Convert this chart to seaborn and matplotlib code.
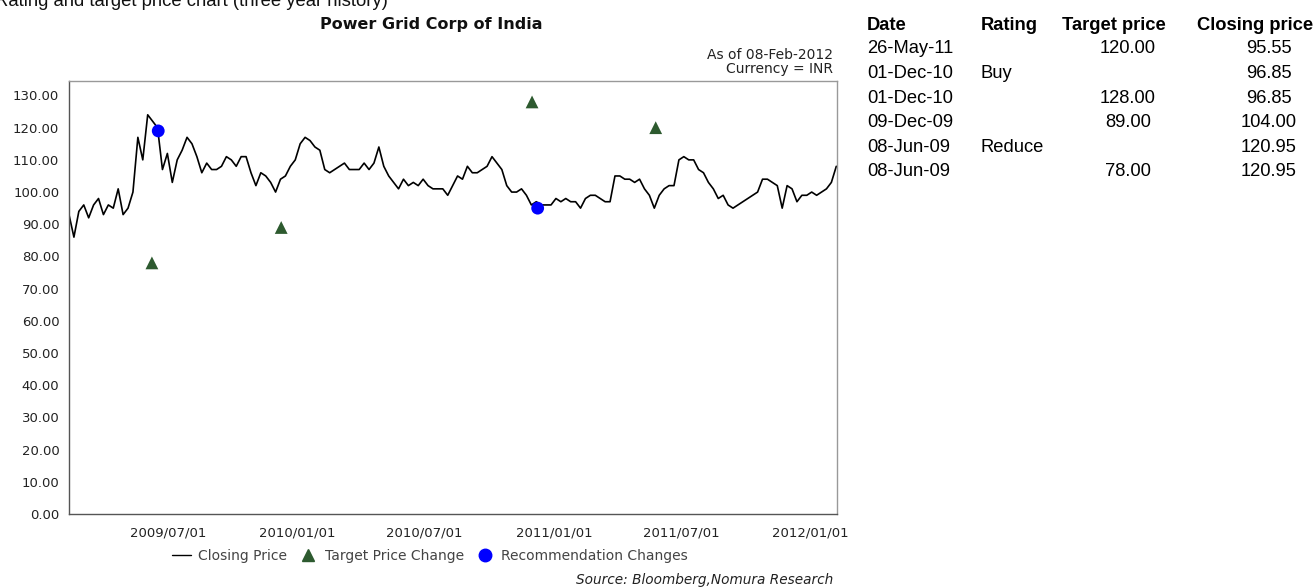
import numpy as np
import pandas as pd
import matplotlib
matplotlib.use("Agg")
import matplotlib.pyplot as plt
import matplotlib.dates as mdates
from matplotlib.lines import Line2D
import seaborn as sns

# ---------------- data ----------------
close_start = "2009-02-10"          # weekly closing prices
close_prices = [
    93, 86, 94, 96, 92, 96, 98, 93, 96, 95,
    101, 93, 95, 100, 117, 110, 124, 122, 120, 107,
    112, 103, 110, 113, 117, 115, 111, 106, 109, 107,
    107, 108, 111, 110, 108, 111, 111, 106, 102, 106,
    105, 103, 100, 104, 105, 108, 110, 115, 117, 116,
    114, 113, 107, 106, 107, 108, 109, 107, 107, 107,
    109, 107, 109, 114, 108, 105, 103, 101, 104, 102,
    103, 102, 104, 102, 101, 101, 101, 99, 102, 105,
    104, 108, 106, 106, 107, 108, 111, 109, 107, 102,
    100, 100, 101, 99, 96, 97, 96, 96, 96, 98,
    97, 98, 97, 97, 95, 98, 99, 99, 98, 97,
    97, 105, 105, 104, 104, 103, 104, 101, 99, 95,
    99, 101, 102, 102, 110, 111, 110, 110, 107, 106,
    103, 101, 98, 99, 96, 95, 96, 97, 98, 99,
    100, 104, 104, 103, 102, 95, 102, 101, 97, 99,
    99, 100, 99, 100, 101, 103, 108,
]
target_dates = ["2009-06-08", "2009-12-09", "2010-12-01", "2011-05-26"]
target_prices = [78.0, 89.0, 128.0, 120.0]
rec_dates = ["2009-06-17", "2010-12-09"]
rec_prices = [119.0, 95.0]

y_ticks = [0, 10, 20, 30, 40, 50, 60, 70, 80, 90, 100, 110, 120, 130]
x_tick_dates = ["2009-07-01", "2010-01-01", "2010-07-01",
                "2011-01-01", "2011-07-01", "2012-01-01"]
x_limits = ["2009-02-10", "2012-02-08"]

table_header = ["Date", "Rating", "Target price", "Closing price"]
table_dates = ["26-May-11", "01-Dec-10", "01-Dec-10", "09-Dec-09", "08-Jun-09", "08-Jun-09"]
table_ratings = ["", "Buy", "", "", "Reduce", ""]
table_targets = ["120.00", "", "128.00", "89.00", "", "78.00"]
table_closes = ["95.55", "96.85", "96.85", "104.00", "120.95", "120.95"]

# ---------------- frames ----------------
close_df = pd.DataFrame({
    "date": pd.date_range(close_start, periods=len(close_prices), freq="7D"),
    "price": close_prices,
})
target_df = pd.DataFrame({"date": pd.to_datetime(target_dates), "price": target_prices})
rec_df = pd.DataFrame({"date": pd.to_datetime(rec_dates), "price": rec_prices})

# ---------------- style ----------------
sns.set_style("white")
plt.rcParams["font.family"] = ["DejaVu Sans"]

W, H = 1315, 587
fig = plt.figure(figsize=(W / 100, H / 100), dpi=100)
ax = fig.add_axes([69 / W, 1 - 514 / H, (837 - 69) / W, (514 - 81) / H])

green = "#2d5a2f"
blue = "#0000ff"

sns.lineplot(data=close_df, x="date", y="price", ax=ax, color="black",
             linewidth=1.2, legend=False)
sns.scatterplot(data=target_df, x="date", y="price", ax=ax, marker="^",
                s=85, color=green, edgecolor="none", legend=False, zorder=4)
sns.scatterplot(data=rec_df, x="date", y="price", ax=ax, marker="o",
                s=85, color=blue, edgecolor="none", legend=False, zorder=5)

ax.set_xlim(pd.Timestamp(x_limits[0]), pd.Timestamp(x_limits[1]))
ax.set_ylim(0, 134.5)
ax.set_yticks(y_ticks)
ax.yaxis.set_major_formatter(matplotlib.ticker.FormatStrFormatter("%.2f"))
ax.set_xticks(pd.to_datetime(x_tick_dates))
ax.xaxis.set_major_formatter(mdates.DateFormatter("%Y/%m/%d"))
ax.set_xlabel("")
ax.set_ylabel("")
ax.tick_params(axis="both", which="major", direction="out", length=4, width=0.8,
               color="#555555", labelsize=9.5, labelcolor="#222222", pad=3)
ax.tick_params(axis="x", pad=5)
for side in ["left", "bottom"]:
    ax.spines[side].set_color("#555555")
    ax.spines[side].set_linewidth(1.0)
for side in ["top", "right"]:
    ax.spines[side].set_color("#999999")
    ax.spines[side].set_linewidth(1.0)
    ax.spines[side].set_visible(True)
ax.grid(False)

# ---------------- texts ----------------
fig.text(-5 / W, 1 - 6 / H, "Rating and target price chart (three year history)",
         ha="left", va="baseline", fontsize=13.3, family="Liberation Sans", color="#111111")
fig.text(431 / W, 1 - 25 / H, "Power Grid Corp of India", ha="center", va="center",
         fontsize=11.5, weight="bold", color="#111111")
fig.text(833 / W, 1 - 55 / H, "As of 08-Feb-2012", ha="right", va="center",
         fontsize=10, color="#222222")
fig.text(833 / W, 1 - 68.5 / H, "Currency = INR", ha="right", va="center",
         fontsize=10, color="#222222")
fig.text(833 / W, 1 - 580 / H, "Source: Bloomberg,Nomura Research", ha="right",
         va="center", fontsize=9.8, style="italic", color="#222222")

handles = [
    Line2D([0], [0], color="black", lw=1.0),
    Line2D([0], [0], marker="^", color=green, lw=0, markersize=9),
    Line2D([0], [0], marker="o", color=blue, lw=0, markersize=9),
]
leg = fig.legend(handles, ["Closing Price", "Target Price Change", "Recommendation Changes"],
                 loc="center", bbox_to_anchor=(430 / W, 1 - 556 / H), ncol=3,
                 frameon=False, fontsize=10, handlelength=1.4, handletextpad=0.5,
                 columnspacing=0.8, labelcolor="#444444")

# ---------------- table ----------------
col_x = [867, 981, 1114, 1255]
col_ha = ["left", "left", "center", "center"]
val_x = [867, 981, 1128, 1269]
header_y = 25
row_ys = [48.5, 74, 98.5, 122.5, 147, 171.5]
for x, ha, txt in zip(col_x, col_ha, table_header):
    fig.text(x / W, 1 - header_y / H, txt, ha=ha, va="center", fontsize=13.2,
             weight="bold", family="Liberation Sans", color="black")
for y, d, r, t, c in zip(row_ys, table_dates, table_ratings, table_targets, table_closes):
    for x, ha, txt in zip(val_x, ["left", "left", "center", "center"], [d, r, t, c]):
        if txt:
            fig.text(x / W, 1 - y / H, txt, ha=ha, va="center", fontsize=13.2,
                     family="Liberation Sans", color="black")

fig.savefig("out.png", dpi=100)
